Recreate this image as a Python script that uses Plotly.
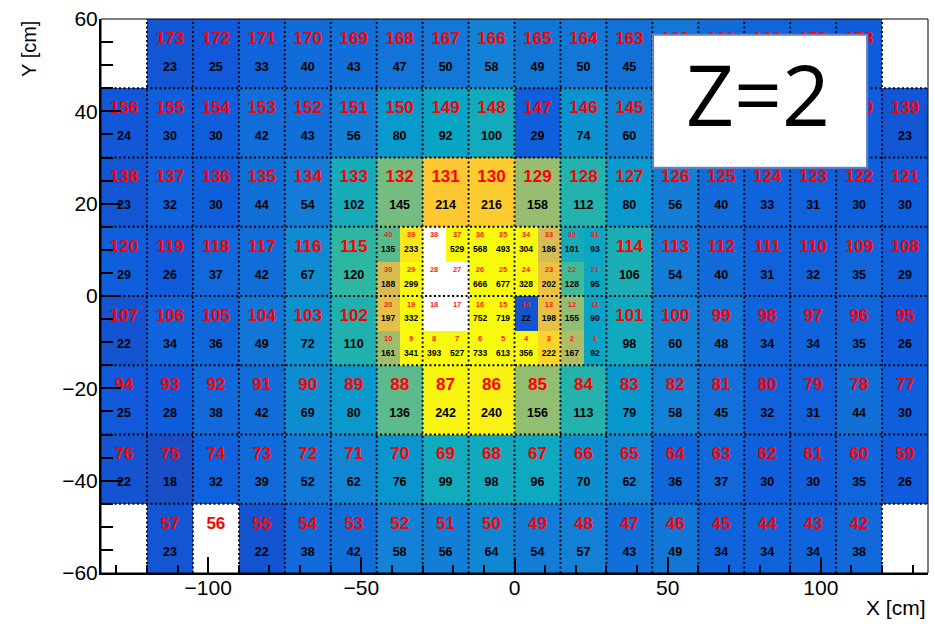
import plotly.graph_objects as go

# ---------------- data ----------------
# Large modules (15 x 15 cm), rows listed from top (y=45..60) to bottom (y=-60..-45),
# columns from left (x=-135) to right (x=135). None = no module / central fine region.
large_ids = [
    [None, 173, 172, 171, 170, 169, 168, 167, 166, 165, 164, 163, 162, 161, 160, 159, 158, None],
    [156, 155, 154, 153, 152, 151, 150, 149, 148, 147, 146, 145, 144, 143, 142, 141, 140, 139],
    [138, 137, 136, 135, 134, 133, 132, 131, 130, 129, 128, 127, 126, 125, 124, 123, 122, 121],
    [120, 119, 118, 117, 116, 115, None, None, None, None, None, 114, 113, 112, 111, 110, 109, 108],
    [107, 106, 105, 104, 103, 102, None, None, None, None, None, 101, 100, 99, 98, 97, 96, 95],
    [94, 93, 92, 91, 90, 89, 88, 87, 86, 85, 84, 83, 82, 81, 80, 79, 78, 77],
    [76, 75, 74, 73, 72, 71, 70, 69, 68, 67, 66, 65, 64, 63, 62, 61, 60, 59],
    [None, 57, 56, 55, 54, 53, 52, 51, 50, 49, 48, 47, 46, 45, 44, 43, 42, None],
]
large_vals = [
    [None, 23, 25, 33, 40, 43, 47, 50, 58, 49, 50, 45, 50, 40, 35, 32, 28, None],
    [24, 30, 30, 42, 43, 56, 80, 92, 100, 29, 74, 60, 45, 38, 33, 30, 28, 23],
    [23, 32, 30, 44, 54, 102, 145, 214, 216, 158, 112, 80, 56, 40, 33, 31, 30, 30],
    [29, 26, 37, 42, 67, 120, None, None, None, None, None, 106, 54, 40, 31, 32, 35, 29],
    [22, 34, 36, 49, 72, 110, None, None, None, None, None, 98, 60, 48, 34, 34, 35, 26],
    [25, 28, 38, 42, 69, 80, 136, 242, 240, 156, 113, 79, 58, 45, 32, 31, 44, 30],
    [22, 18, 32, 39, 52, 62, 76, 99, 98, 96, 70, 62, 36, 37, 30, 30, 35, 26],
    [None, 23, None, 22, 38, 42, 58, 56, 64, 54, 57, 43, 49, 34, 34, 34, 38, None],
]
# Fine modules (7.5 x 7.5 cm) in the central block, rows from top to bottom
small_ids = [
    [40, 39, 38, 37, 36, 35, 34, 33, 32, 31],
    [30, 29, 28, 27, 26, 25, 24, 23, 22, 21],
    [20, 19, 18, 17, 16, 15, 14, 13, 12, 11],
    [10, 9, 8, 7, 6, 5, 4, 3, 2, 1],
]
small_vals = [
    [135, 233, None, 529, 568, 493, 304, 186, 101, 93],
    [188, 299, None, None, 666, 677, 328, 202, 128, 95],
    [197, 332, None, None, 752, 719, 22, 198, 155, 90],
    [161, 341, 393, 527, 733, 613, 356, 222, 167, 92],
]
label_text = "Z=2"

# ---------------- geometry ----------------
X_MIN, X_MAX = -135, 135
Y_MIN, Y_MAX = -60, 60
CELL = 15.0
FINE = 7.5
FINE_X0, FINE_Y1 = -45.0, 15.0   # left / top edge of the fine block

n_rows, n_cols = len(large_vals), len(large_vals[0])
xl = [X_MIN + CELL * (i + 0.5) for i in range(n_cols)]
yl = [Y_MAX - CELL * (j + 0.5) for j in range(n_rows)]
ns_rows, ns_cols = len(small_vals), len(small_vals[0])
xs = [FINE_X0 + FINE * (i + 0.5) for i in range(ns_cols)]
ys = [FINE_Y1 - FINE * (j + 0.5) for j in range(ns_rows)]

# ROOT kBird palette
bird_stops = [0.0, 0.125, 0.25, 0.375, 0.5, 0.625, 0.75, 0.875, 1.0]
bird_r = [0.2082, 0.0592, 0.0780, 0.0232, 0.1802, 0.5301, 0.8186, 0.9956, 0.9764]
bird_g = [0.1664, 0.3599, 0.5041, 0.6419, 0.7178, 0.7492, 0.7328, 0.7862, 0.9832]
bird_b = [0.5293, 0.8684, 0.8385, 0.7914, 0.6425, 0.4662, 0.3499, 0.1968, 0.0539]
colorscale = [[s, "rgb(%d,%d,%d)" % (r * 255, g * 255, b * 255)]
              for s, r, g, b in zip(bird_stops, bird_r, bird_g, bird_b)]

FONT = "Liberation Sans, Arial, sans-serif"

fig = go.Figure()

fig.add_trace(go.Heatmap(
    x=xl, y=yl[::-1], z=large_vals[::-1], coloraxis="coloraxis",
    hoverinfo="skip", xgap=0, ygap=0))
fig.add_trace(go.Heatmap(
    x=xs, y=ys[::-1], z=small_vals[::-1], coloraxis="coloraxis",
    hoverinfo="skip", xgap=0, ygap=0))

# dotted module grid (15 cm)
gx, gy = [], []
k = 1
while X_MIN + CELL * k < X_MAX - 1e-6:
    xv = X_MIN + CELL * k
    gx += [xv, xv, None]
    gy += [Y_MIN, Y_MAX, None]
    k += 1
k = 1
while Y_MIN + CELL * k < Y_MAX - 1e-6:
    yv = Y_MIN + CELL * k
    gx += [X_MIN, X_MAX, None]
    gy += [yv, yv, None]
    k += 1
fig.add_trace(go.Scatter(x=gx, y=gy, mode="lines", hoverinfo="skip",
                         line=dict(color="black", width=1.8, dash="2px,2.5px"),
                         showlegend=False))

# text labels
def collect(ids_or_vals, xc, yc, dy):
    tx, ty, tt = [], [], []
    for j, row in enumerate(ids_or_vals):
        for i, v in enumerate(row):
            if v is None:
                continue
            tx.append(xc[i]); ty.append(yc[j] + dy); tt.append(str(v))
    return tx, ty, tt

for data, xc, yc, dy, color, size, weight in [
    (large_ids, xl, yl, 3.05, "#ff0000", 17, "bold"),
    (large_vals, xl, yl, -3.05, "black", 12.5, "bold"),
    (small_ids, xs, ys, 1.85, "#ff1a1a", 7.5, "bold"),
    (small_vals, xs, ys, -1.3, "black", 8.5, "bold"),
]:
    tx, ty, tt = collect(data, xc, yc, dy)
    fig.add_trace(go.Scatter(
        x=tx, y=ty, text=tt, mode="text", hoverinfo="skip", showlegend=False,
        textposition="middle center",
        textfont=dict(family=FONT, size=size, color=color, weight=weight)))

fig.update_layout(
    width=935, height=627,
    margin=dict(l=101, r=7, t=11, b=54),
    paper_bgcolor="white", plot_bgcolor="white",
    showlegend=False,
    coloraxis=dict(colorscale=colorscale, cmin=-5, cmax=245, showscale=False),
    font=dict(family=FONT, color="black"),
    xaxis=dict(range=[X_MIN, X_MAX], showgrid=False, zeroline=False,
               showline=True, linecolor="black", linewidth=2,
               ticks="inside", ticklen=16, tickwidth=2, tickcolor="black",
               tick0=0, dtick=50, tickfont=dict(size=21, family=FONT),
               ticklabeloverflow="allow", ticklabelstandoff=-5,
               minor=dict(ticks="inside", ticklen=8, tickwidth=2, tickcolor="black",
                          dtick=10, tick0=0, showgrid=False)),
    yaxis=dict(range=[Y_MIN, Y_MAX], showgrid=False, zeroline=False,
               showline=True, linecolor="black", linewidth=2,
               ticks="inside", ticklen=20, tickwidth=2, tickcolor="black",
               tick0=0, dtick=20, tickfont=dict(size=21, family=FONT),
               ticklabeloverflow="allow", ticklabelstandoff=-3,
               minor=dict(ticks="inside", ticklen=12, tickwidth=2, tickcolor="black",
                          dtick=5, tick0=0, showgrid=False)),
    shapes=[
        dict(type="rect", xref="paper", yref="paper", x0=0, x1=1, y0=0, y1=1,
             line=dict(color="black", width=1), layer="above"),
        dict(type="rect", xref="paper", yref="paper",
             x0=0.6676, x1=0.9263, y0=0.7313, y1=0.9715,
             fillcolor="white", line=dict(color="#6a82c4", width=2), layer="above"),
    ],
    annotations=[
        dict(text=label_text, xref="paper", yref="paper", x=0.7945, y=0.8648,
             xanchor="center", yanchor="middle", showarrow=False,
             font=dict(family="Open Sans, Noto Sans, sans-serif", size=84, color="black")),
        dict(text="Y [cm]", xref="paper", yref="paper", x=-0.0879, y=0.9466,
             textangle=-90, xanchor="center", yanchor="middle", showarrow=False,
             font=dict(family=FONT, size=20, color="black")),
        dict(text="X [cm]", xref="paper", yref="paper", x=1.0, y=-0.0623,
             xanchor="right", yanchor="middle", showarrow=False,
             font=dict(family=FONT, size=21, color="black")),
    ],
)

fig.write_html("out.html", config={"displayModeBar": False},
               post_script="document.body.style.margin='0px';document.body.style.overflow='hidden';")
